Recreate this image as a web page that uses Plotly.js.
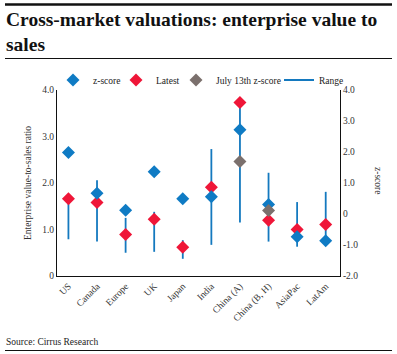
<!DOCTYPE html>
<html>
<head>
<meta charset="utf-8">
<script src="https://cdn.plot.ly/plotly-3.0.1.min.js"></script>
<style>
html,body{margin:0;padding:0;background:#fff;}
#chart{width:397px;height:354px;}
</style>
</head>
<body>
<div id="chart"></div>
<script>
// ---- data ----
var categories = ["US","Canada","Europe","UK","Japan","India","China (A)","China (B, H)","AsiaPac","LatAm"];
var zScore   = [1.98, 0.67, 0.12, 1.36, 0.49, 0.56, 2.72, 0.31, -0.73, -0.86];
var latest   = [1.66, 1.58, 0.89, 1.22, 0.62, 1.91, 3.73, 1.20, 1.00, 1.11];
var july13Categories = ["China (A)","China (B, H)"];
var july13Z  = [1.69, 0.11];
var rangeMin = [0.79, 0.74, 0.50, 0.52, 0.37, 0.67, 1.15, 0.74, 0.63, 0.77];
var rangeMax = [1.66, 2.06, 1.25, 1.38, 0.77, 2.73, 3.73, 2.22, 1.59, 1.81];
var leftTickVals = [0, 1, 2, 3, 4];
var leftTickText = ["0","1.0","2.0","3.0","4.0"];
var rightTickVals = [-2, -1, 0, 1, 2, 3, 4];
var rightTickText = ["-2.0","-1.0","0","1.0","2.0","3.0","4.0"];
var titleText = "Cross-market valuations: enterprise value to<br>sales";
var sourceText = "Source: Cirrus Research";

// build range segments
var rx = [], ry = [];
for (var i = 0; i < categories.length; i++) {
  rx.push(categories[i], categories[i], null);
  ry.push(rangeMin[i], rangeMax[i], null);
}

var FONT = "Liberation Serif, serif";
var blue = "#0f7bc4", red = "#ef1638", grey = "#7b706d", lineBlue = "#1479bf";

var traces = [
  {type:"scatter", mode:"lines", name:"Range", x:rx, y:ry, xaxis:"x", yaxis:"y",
   line:{color:lineBlue, width:1.8}, legendrank:4, hoverinfo:"skip"},
  {type:"scatter", mode:"markers", name:"z-score", x:categories, y:zScore, xaxis:"x", yaxis:"y2",
   marker:{symbol:"diamond", size:10, color:blue}, legendrank:1, legendwidth:18},
  {type:"scatter", mode:"markers", name:"Latest", x:categories, y:latest, xaxis:"x", yaxis:"y",
   marker:{symbol:"diamond", size:10, color:red}, legendrank:2, legendwidth:15},
  {type:"scatter", mode:"markers", name:"July 13th z-score", x:july13Categories, y:july13Z, xaxis:"x", yaxis:"y2",
   marker:{symbol:"diamond", size:10, color:grey}, legendrank:3, legendwidth:58}
];

// paper coordinate helpers (plot area: x 57..340, y 90..276)
function px(x){ return (x-57)/283; }
function py(y){ return (276-y)/186; }

var layout = {
  width:397, height:354,
  margin:{l:57, r:57, t:90, b:78, autoexpand:false},
  paper_bgcolor:"#fff", plot_bgcolor:"#fff",
  font:{family:FONT, size:9, color:"#333"},
  showlegend:true,
  legend:{orientation:"h", x:px(53), xanchor:"left", y:py(80), yanchor:"middle",
    font:{family:FONT, size:9.5, color:"#222"}, bgcolor:"rgba(0,0,0,0)",
    itemwidth:30, tracegroupgap:0},
  xaxis:{type:"category", range:[-0.4, 9.5], showline:true, linecolor:"#111", linewidth:1,
    ticks:"", tickangle:-45, showgrid:false, zeroline:false,
    tickfont:{family:FONT, size:9.5, color:"#333"}},
  yaxis:{range:[0,4], tickvals:leftTickVals, ticktext:leftTickText, showline:true,
    linecolor:"#111", linewidth:1, ticks:"", showgrid:false, zeroline:false,
    tickfont:{family:FONT, size:9.5, color:"#333"},
    title:{text:"Enterprise value-to-sales ratio", font:{family:FONT, size:9.5, color:"#333"}, standoff:8}},
  yaxis2:{range:[-2,4], overlaying:"y", side:"right", tickvals:rightTickVals, ticktext:rightTickText,
    showline:true, linecolor:"#111", linewidth:1, ticks:"", showgrid:false, zeroline:false,
    tickfont:{family:FONT, size:9.5, color:"#333"}},
  shapes:[
    {type:"line", xref:"paper", yref:"paper", x0:px(5), x1:px(392), y0:py(4.5), y1:py(4.5), line:{color:"#111", width:2.5}},
    {type:"line", xref:"paper", yref:"paper", x0:px(5), x1:px(392), y0:py(58.5), y1:py(58.5), line:{color:"#111", width:1}},
    {type:"line", xref:"paper", yref:"paper", x0:px(5), x1:px(392), y0:py(350.5), y1:py(350.5), line:{color:"#111", width:1}}
  ],
  annotations:[
    {text:"<b>"+titleText+"</b>", xref:"paper", yref:"paper", x:px(4), y:py(7), align:"left",
     showarrow:false, font:{family:FONT, size:19.5, color:"#111"}, xanchor:"left", yanchor:"top"},
    {text:"z-score", xref:"paper", yref:"paper", x:px(378), y:py(180), textangle:90,
     showarrow:false, font:{family:FONT, size:9.5, color:"#333"}, xanchor:"center", yanchor:"middle"},
    {text:sourceText, xref:"paper", yref:"paper", x:px(4), y:py(342),
     showarrow:false, font:{family:FONT, size:9.5, color:"#222"}, xanchor:"left", yanchor:"middle"}
  ]
};

Plotly.newPlot("chart", traces, layout, {displayModeBar:false, staticPlot:true});
</script>
</body>
</html>
